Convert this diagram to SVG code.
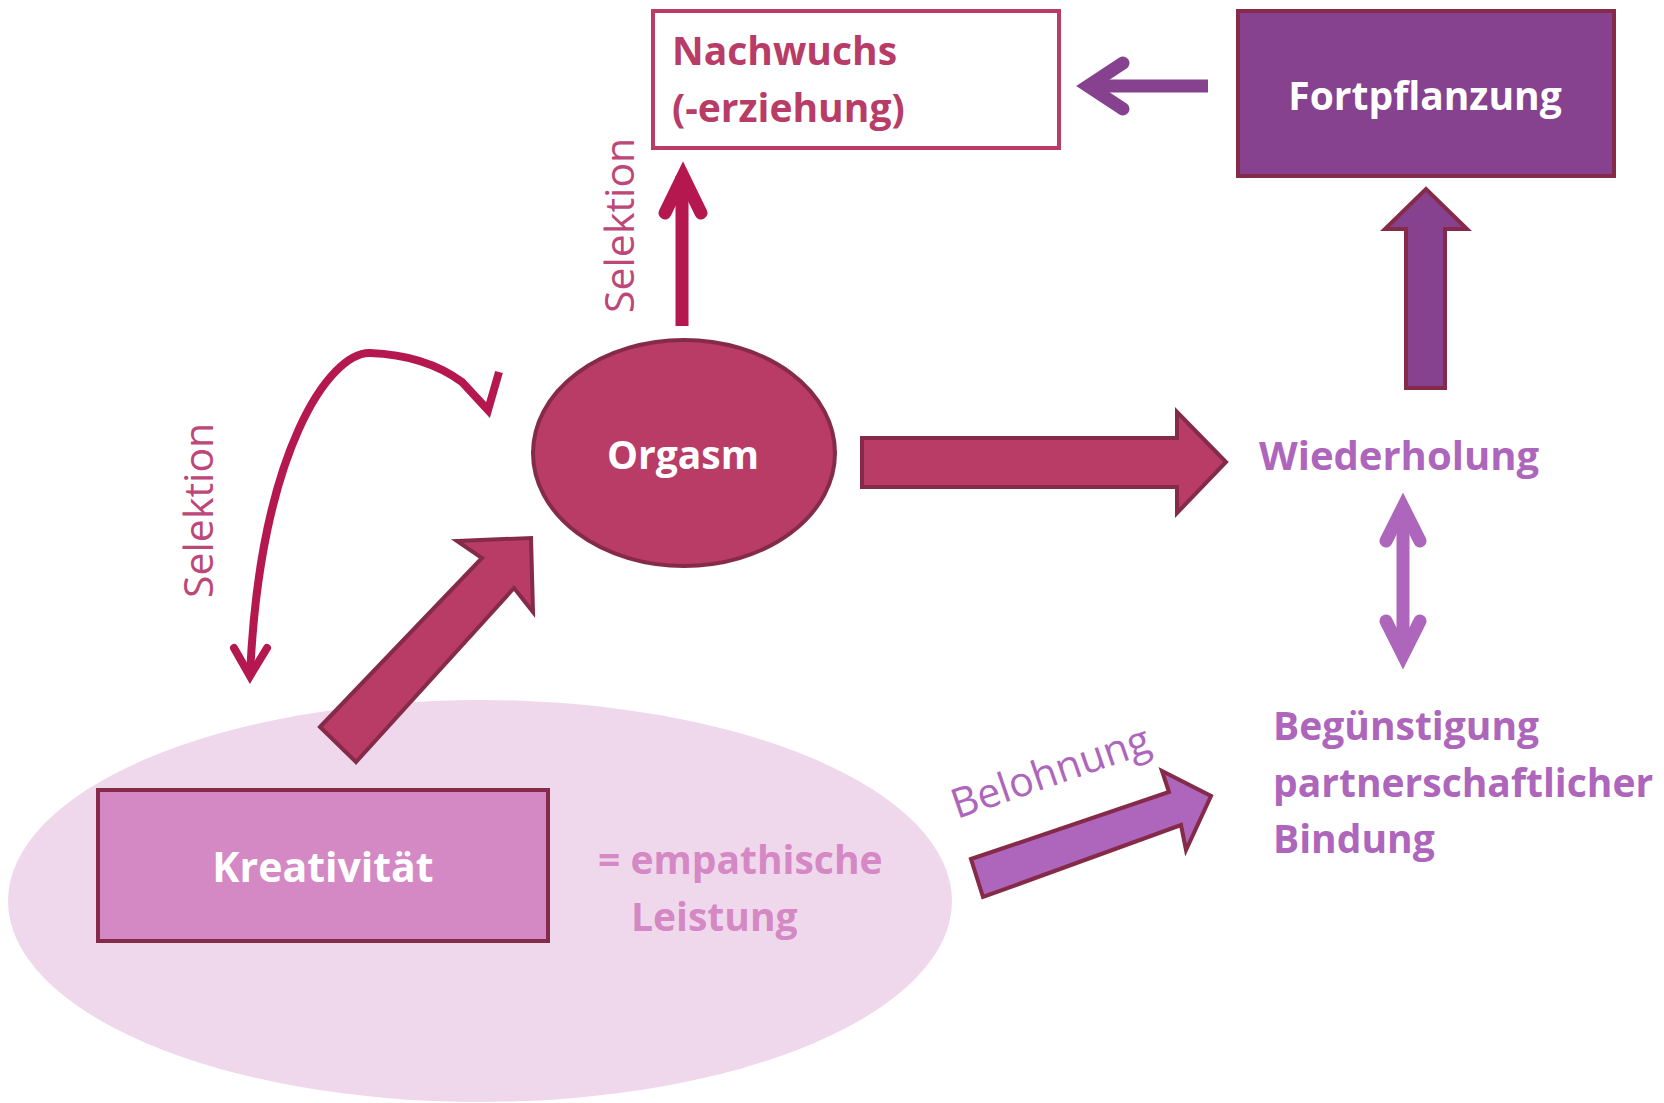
<svg xmlns="http://www.w3.org/2000/svg" width="1664" height="1103" viewBox="0 0 1664 1103">
<style>
.b{font-family:"Open Sans","Liberation Sans",sans-serif;font-weight:700;font-size:39px}
.r{font-family:"Open Sans","Liberation Sans",sans-serif;font-weight:400;font-size:41px}
.w{fill:#FFFFFF}
.blk{stroke:#862A4A;stroke-width:4;stroke-linejoin:miter}
.ln{fill:none;stroke-linejoin:miter}
.cap{fill:none;stroke-linecap:round;stroke-linejoin:miter;stroke-miterlimit:10}
</style>
<rect width="1664" height="1103" fill="#FFFFFF"/>
<g id="empathie-bereich">
<ellipse cx="480" cy="901" rx="472" ry="201" fill="#F0D8EC"/>
</g>
<g id="connectors">
<path d="M682 326 V176" class="ln" stroke="#B5174F" stroke-width="13"/>
<path d="M665 213 L683 176 L701 213" class="cap" stroke="#B5174F" stroke-width="13"/>
<path d="M1208 86 H1088" class="ln" stroke="#86418F" stroke-width="13"/>
<path d="M1123 63 L1088 86 L1123 109" class="cap" stroke="#86418F" stroke-width="13"/>
<path d="M1403 507 V655" class="ln" stroke="#AD66BB" stroke-width="13"/>
<path d="M1386 541 L1403 507 L1420 541" class="cap" stroke="#AD66BB" stroke-width="13"/>
<path d="M1386 621 L1403 655 L1420 621" class="cap" stroke="#AD66BB" stroke-width="13"/>
<path d="M499 372 L488 410 L462 382 Q425 355 370 353 C330 352 260 450 250 676" class="ln" stroke="#B5174F" stroke-width="8" stroke-miterlimit="10"/>
<path d="M234 648 L250 676 L267 648" class="cap" stroke="#B5174F" stroke-width="8"/>
<polygon points="320,727 482,558 457,541 531,538 533,612 514,588 356,762" fill="#B83C66" class="blk"/>
<polygon points="862,438 1177,438 1177,412 1226,462 1177,513 1177,487 862,487" fill="#B83C66" class="blk"/>
<polygon points="1406,388 1406,229 1385,229 1426,189 1467,229 1445,229 1445,388" fill="#86418F" class="blk"/>
<polygon points="971,859 1169,792 1162,771 1211,796 1186,850 1181,825 983,897" fill="#AD66BB" class="blk"/>
<text class="r" fill="#BC4778" transform="translate(634,313) rotate(-90)">Selektion</text>
<text class="r" fill="#BC4778" transform="translate(213,598) rotate(-90)">Selektion</text>
<text class="r" fill="#AD66BB" transform="translate(957,819) rotate(-19)">Belohnung</text>
</g>
<g id="nachwuchs">
<rect x="653" y="11" width="406" height="137" fill="#FFFFFF" stroke="#B83C66" stroke-width="4"/>
<text class="b" fill="#B83C66" x="672" y="65">Nachwuchs</text>
<text class="b" fill="#B83C66" x="672" y="122">(-erziehung)</text>
</g>
<g id="fortpflanzung">
<rect x="1238" y="11" width="376" height="165" fill="#86418F" class="blk"/>
<text class="b w" x="1425" y="110" text-anchor="middle">Fortpflanzung</text>
</g>
<g id="orgasm">
<ellipse cx="684" cy="453" rx="151" ry="113" fill="#B83C66" class="blk"/>
<text class="b w" x="683" y="469" text-anchor="middle">Orgasm</text>
</g>
<g id="kreativitaet">
<rect x="98" y="790" width="450" height="151" fill="#D488C4" class="blk"/>
<text class="b w" x="323" y="882" text-anchor="middle" style="font-size:41px">Kreativität</text>
<text class="b" fill="#D488C4" x="598" y="874">= empathische</text>
<text class="b" fill="#D488C4" x="631" y="931">Leistung</text>
</g>
<g id="wiederholung">
<text class="b" fill="#AD66BB" x="1259" y="470" style="font-size:40px">Wiederholung</text>
</g>
<g id="beguenstigung">
<text class="b" fill="#AD66BB" x="1273" y="740">Begünstigung</text>
<text class="b" fill="#AD66BB" x="1273" y="797">partnerschaftlicher</text>
<text class="b" fill="#AD66BB" x="1273" y="853">Bindung</text>
</g>
</svg>
